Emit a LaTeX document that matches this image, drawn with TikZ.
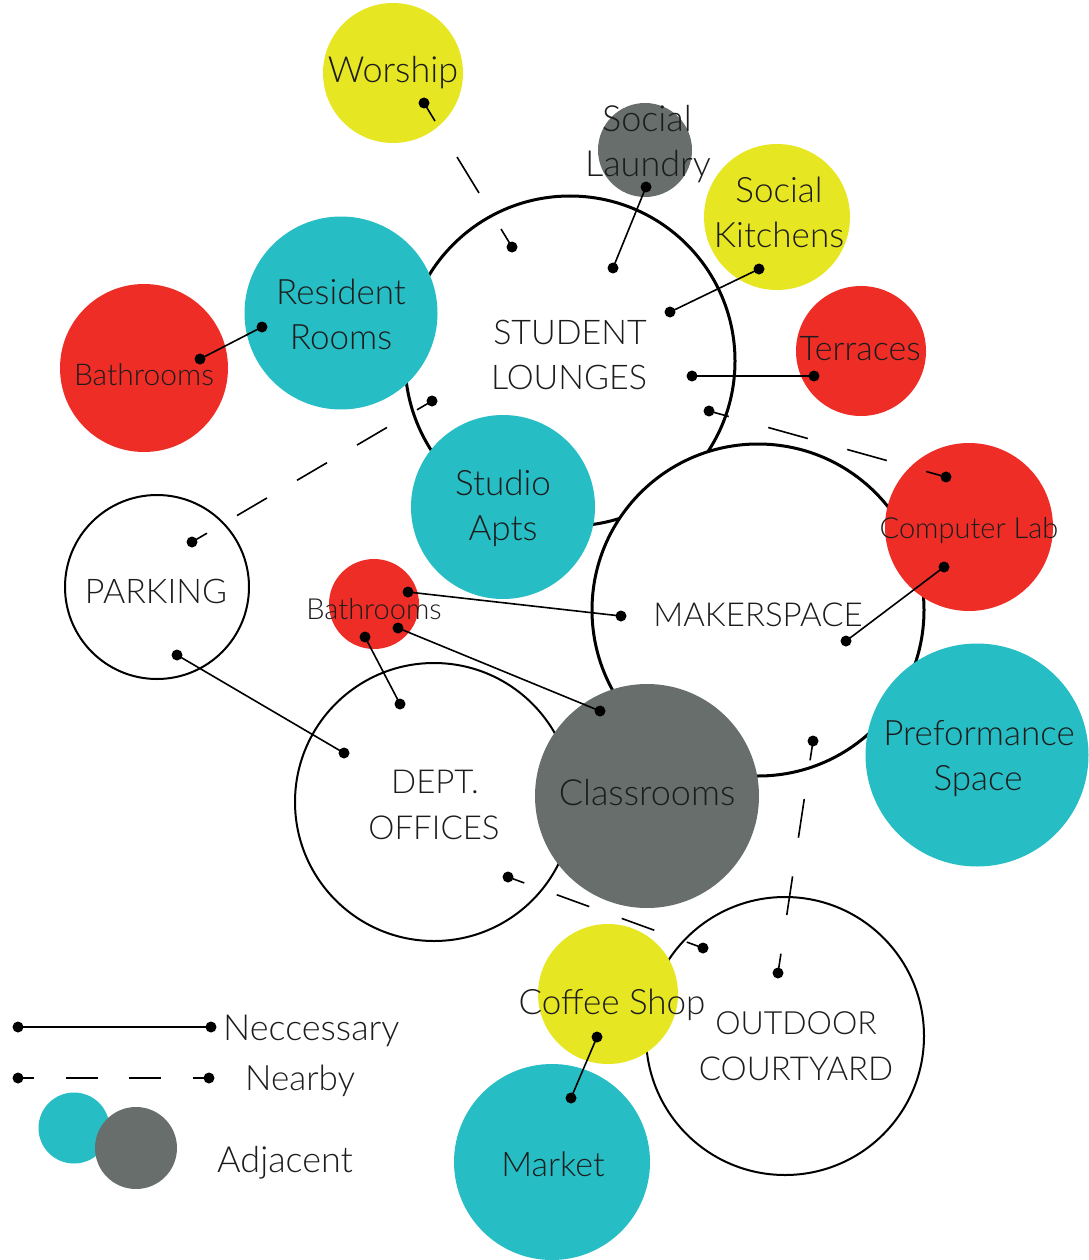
\documentclass[tikz,border=0pt]{standalone}
\usepackage{fontspec}
\setmainfont{Lato Light}
\usetikzlibrary{calc}
\definecolor{cyel}{RGB}{230,230,35}
\definecolor{cteal}{RGB}{38,189,196}
\definecolor{cred}{RGB}{238,45,39}
\definecolor{cgray}{RGB}{103,110,107}
\definecolor{ctxt}{RGB}{28,28,28}
\tikzset{
  bub/.style={circle, inner sep=0pt, outer sep=0pt, minimum size=#1},
  space/.style={bub=#1, fill=white, draw=black},
  bigring/.style={line width=3pt},
  thinring/.style={line width=2pt},
  dotn/.style={circle, fill=black, inner sep=0pt, minimum size=11pt},
  link/.style={line width=1.6pt, draw=black},
  lbl/.style={inner sep=0pt, anchor=base, text=ctxt, font=\fontsize{#1}{#1}\selectfont},
  lbl/.default=35,
  leglbl/.style={lbl=#1, anchor=base west},
}
\newcommand{\nearbylink}[3]{%
  \path let \p1=($(#2)-(#1)$) in
    \pgfextra{\pgfmathsetmacro\nbdtmp{veclen(\x1,\y1)/(2*#3+2)}\global\let\nbd\nbdtmp
              \pgfmathsetmacro\nbhtmp{\nbdtmp/2}\global\let\nbh\nbhtmp};
  \draw[link, dash pattern=on \nbd pt off \nbd pt, dash phase=\nbh pt] (#1.center) -- (#2.center);
}
\begin{document}
\begin{tikzpicture}[x=1pt,y=-1pt]
\useasboundingbox (0,0) rectangle (1088,1260);
% --- isolated colored bubbles
\node[bub=140pt, fill=cyel] (worship) at (393,73) {};
\node[bub=94pt, fill=cgray] (laundry) at (645,150) {};
\node[bub=146pt, fill=cyel] (kitchens) at (777,217) {};
\node[bub=130pt, fill=cred] (terraces) at (861,351) {};
\node[bub=168pt, fill=cred] (bathL) at (144,368) {};
% --- student lounges
\node[space=330pt, bigring] (lounges) at (570,361) {};
\node[bub=193pt, fill=cteal] (resident) at (341,313) {};
\node[bub=184pt, fill=cteal] (studio) at (503,507) {};
% --- parking
\node[space=184pt, thinring] (parking) at (157,587) {};
% --- makerspace
\node[space=332pt, bigring] (maker) at (758,610) {};
\node[bub=168pt, fill=cred] (complab) at (969,527) {};
\node[bub=223pt, fill=cteal] (perform) at (977,755) {};
% --- dept offices
\node[space=278pt, thinring] (dept) at (434,802) {};
\node[bub=90pt, fill=cred] (bathS) at (374,604) {};
\node[bub=224pt, fill=cgray] (classrooms) at (647,796) {};
% --- outdoor courtyard
\node[space=278pt, thinring] (court) at (785,1036) {};
\node[bub=140pt, fill=cyel] (coffee) at (608,994) {};
\node[bub=196pt, fill=cteal] (market) at (552,1162) {};
% --- legend bubbles
\node[bub=71pt, fill=cteal] (legA) at (74,1128) {};
\node[bub=82pt, fill=cgray] (legB) at (136,1148) {};

% --- dots
\foreach \n/\x/\y in {lau1/646/187, lau2/613/268, kit1/759/269, kit2/670/312,
  ter1/814/376, ter2/692/376, res1/262/327, bat1/200/359,
  sb1/408/592, mk1/621/616, sb2/398/628, cl1/600/711, sb3/365/637, do1/400/704,
  pk1/177/655, do2/344/753, cpl1/944/567, mk2/846/641, cof1/597/1037, mkt1/571/1098,
  leg1/18/1027, leg2/211/1027,
  wor1/424/103, lo1/512/247, lo2/432/401, pk2/192/542, lo3/709/411, cpl2/946/477,
  mk3/813/741, oc1/778/973, do3/508/877, oc2/703/948, leg3/18/1078, leg4/209/1078}
  \node[dotn] (\n) at (\x,\y) {};

% --- necessary links
\foreach \a/\b in {lau1/lau2, kit1/kit2, ter1/ter2, res1/bat1, sb1/mk1, sb2/cl1,
  sb3/do1, pk1/do2, cpl1/mk2, cof1/mkt1, leg1/leg2}
  \draw[link] (\a.center) -- (\b.center);

% --- nearby links
\nearbylink{wor1}{lo1}{1}
\nearbylink{lo2}{pk2}{3}
\nearbylink{lo3}{cpl2}{2}
\nearbylink{mk3}{oc1}{2}
\nearbylink{do3}{oc2}{2}
\nearbylink{leg3}{leg4}{2}

% --- labels
\node[lbl=36] (tWor) at (393,83) {Worship};
\node[lbl=36] (tLau1) at (647,132) {Social};
\node[lbl=36] (tLau2) at (648,177) {Laundry};
\node[lbl=35] (tKit1) at (779,202) {Social};
\node[lbl=35] (tKit2) at (779,247) {Kitchens};
\node[lbl=34] (tTer) at (860,360) {Terraces};
\node[lbl=34] (tLou1) at (570,344) {STUDENT};
\node[lbl=34] (tLou2) at (569,389) {LOUNGES};
\node[lbl=35] (tRes1) at (341,304) {Resident};
\node[lbl=35] (tRes2) at (341,349) {Rooms};
\node[lbl=30] (tBatL) at (144,385) {Bathrooms};
\node[lbl=35] (tStu1) at (503,495) {Studio};
\node[lbl=35] (tStu2) at (503,540) {Apts};
\node[lbl=34] (tPar) at (156,603) {PARKING};
\node[lbl=29] (tBatS) at (374,619) {Bathrooms};
\node[lbl=33] (tMak) at (758,626) {MAKERSPACE};
\node[lbl=29] (tCom) at (969,538) {Computer Lab};
\node[lbl=35] (tPer1) at (979,745) {Preformance};
\node[lbl=35] (tPer2) at (978,790) {Space};
\node[lbl=33] (tDep1) at (435,793) {DEPT.};
\node[lbl=33] (tDep2) at (434,839) {OFFICES};
\node[lbl=36] (tCla) at (647,805) {Classrooms};
\node[lbl=35] (tCof) at (612,1014) {Coffee Shop};
\node[lbl=32] (tOut1) at (796,1034) {OUTDOOR};
\node[lbl=33] (tOut2) at (796,1080) {COURTYARD};
\node[lbl=34] (tMar) at (553,1176) {Market};
\node[leglbl=36] (tNec) at (223,1040) {Neccessary};
\node[leglbl=35] (tNea) at (245,1090) {Nearby};
\node[leglbl=36] (tAdj) at (217,1172) {Adjacent};
\end{tikzpicture}
\end{document}
